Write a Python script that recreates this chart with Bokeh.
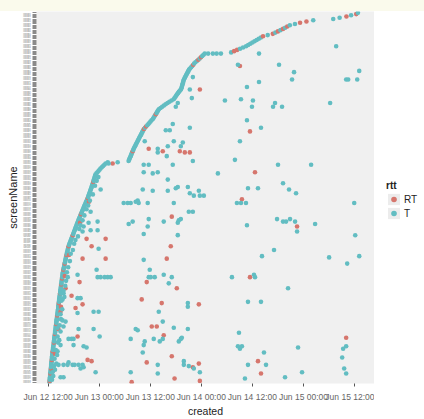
import pandas as pd
from bokeh.embed import file_html
from bokeh.layouts import column, row
from bokeh.models import (ColumnDataSource, DatetimeTickFormatter, Div, FactorRange,
                          FixedTicker, Legend, LegendItem, Range1d)
from bokeh.plotting import figure
from bokeh.resources import INLINE

# ---------------- data ----------------
# y categories: one level per user (ordered by first tweet, bottom = first)
screen_names = [f"user{i:03d}" for i in range(1, 301)]

# hour (since Jun 12 00:00) of the first tweet of each user, level 1..300
first_hour = [
    12.30, 12.33, 12.36, 12.39, 12.42, 12.45, 12.48, 12.50, 12.53, 12.56,
    12.59, 12.62, 12.65, 12.68, 12.71, 12.74, 12.77, 12.80, 12.83, 12.86,
    12.89, 12.92, 12.95, 12.98, 13.01, 13.05, 13.09, 13.13, 13.17, 13.21,
    13.25, 13.29, 13.33, 13.36, 13.40, 13.43, 13.47, 13.50, 13.54, 13.58,
    13.61, 13.65, 13.69, 13.72, 13.76, 13.79, 13.83, 13.87, 13.90, 13.94,
    13.97, 14.01, 14.05, 14.08, 14.12, 14.16, 14.20, 14.24, 14.28, 14.32,
    14.35, 14.38, 14.40, 14.44, 14.48, 14.52, 14.56, 14.60, 14.63, 14.67,
    14.71, 14.75, 14.79, 14.83, 14.87, 14.90, 14.94, 14.98, 15.02, 15.06,
    15.10, 15.14, 15.18, 15.22, 15.26, 15.30, 15.34, 15.38, 15.40, 15.46,
    15.52, 15.58, 15.64, 15.70, 15.76, 15.82, 15.88, 15.94, 16.00, 16.06,
    16.12, 16.18, 16.25, 16.31, 16.38, 16.44, 16.51, 16.58, 16.66, 16.73,
    16.80, 16.90, 17.01, 17.12, 17.23, 17.34, 17.45, 17.56, 17.67, 17.78,
    17.89, 18.00, 18.11, 18.22, 18.33, 18.44, 18.55, 18.66, 18.77, 18.88,
    19.00, 19.10, 19.22, 19.34, 19.46, 19.58, 19.70, 19.82, 19.94, 20.06,
    20.18, 20.30, 20.42, 20.54, 20.67, 20.80, 20.92, 21.05, 21.17, 21.30,
    21.40, 21.50, 21.60, 21.70, 21.80, 21.90, 22.00, 22.10, 22.20, 22.30,
    22.40, 22.49, 22.58, 22.67, 22.76, 22.85, 22.94, 23.02, 23.10, 23.34,
    23.58, 23.82, 24.06, 24.30, 24.60, 24.90, 25.20, 25.50, 26.00, 30.90,
    31.02, 31.14, 31.26, 31.38, 31.50, 31.62, 31.74, 31.86, 31.98, 32.10,
    32.25, 32.40, 32.55, 32.70, 32.85, 33.00, 33.15, 33.30, 33.45, 33.60,
    33.75, 33.90, 34.05, 34.20, 34.35, 34.50, 34.75, 35.00, 35.30, 35.55,
    35.80, 36.05, 36.30, 36.60, 36.78, 36.95, 37.13, 37.30, 37.48, 37.65,
    37.83, 38.00, 38.40, 38.80, 39.20, 39.60, 40.05, 40.50, 41.00, 41.50,
    41.70, 41.90, 42.10, 42.30, 42.50, 42.70, 42.95, 43.20, 43.30, 43.40,
    43.48, 43.56, 43.64, 43.72, 43.80, 43.90, 44.05, 44.20, 44.35, 44.50,
    44.65, 44.80, 44.95, 45.10, 45.35, 45.60, 45.85, 46.10, 46.30, 46.60,
    46.95, 47.30, 47.60, 47.90, 48.20, 48.50, 48.80, 55.00, 55.70, 56.40,
    57.10, 57.80, 58.50, 59.00, 59.50, 60.00, 60.50, 61.00, 61.50, 62.00,
    62.50, 63.60, 64.80, 65.40, 66.00, 66.60, 67.20, 67.70, 68.20, 68.80,
    70.00, 71.20, 72.70, 74.30, 79.00, 80.50, 82.10, 83.20, 84.40, 84.80,
]

# users whose first tweet is a retweet
rt_first_levels = [2, 8, 12, 19, 26, 33, 40, 48, 55, 65, 73, 80, 85, 92, 97, 104,
                   111, 120, 137, 150, 163, 188, 206, 208, 218, 258, 262, 264, 269,
                   270, 281, 283, 285, 287, 289, 292, 293, 297, 299]

# later retweets: (user level, hour)
rt_extra = [
    (238, 47.65), (190, 35.63), (188, 38.93), (188, 42.93), (187, 44.11), (187, 45.29),
    (178, 27.15), (135, 41.05), (117, 21.02), (117, 25.50), (111, 22.20), (111, 40.81),
    (101, 20.08), (101, 25.50), (101, 39.87), (82, 19.37), (82, 35.16), (77, 42.23),
    (77, 16.08), (71, 17.49), (68, 33.98), (65, 38.69), (64, 47.41), (64, 20.08),
    (61, 18.43), (58, 14.90), (46, 36.34), (46, 37.52), (39, 39.16), (38, 18.90),
    (22, 41.05), (19, 21.26), (18, 22.20), (17, 35.16), (13, 46.00), (16, 47.41),
    (1, 31.62), (4, 41.70), (2, 47.65), (127, 70.50), (86, 59.43), (37, 82.04),
    (18, 61.31), (8, 62.02), (257, 57.07), (204, 59.43), (171, 60.61), (149, 57.54),
    (10, 13.10), (24, 13.60), (44, 14.40), (62, 15.00), (87, 15.90), (104, 16.90),
    (130, 19.50), (147, 21.60),
]

# later original tweets: (user level, hour)
t_extra = [
    (267, 49.60), (267, 50.71), (267, 51.60), (267, 52.60), (248, 46.00), (238, 45.29),
    (231, 45.76), (227, 42.46), (224, 41.99), (210, 41.28), (205, 39.64), (205, 40.58),
    (207, 45.29), (196, 41.52), (195, 43.64), (192, 43.17), (192, 40.11), (190, 37.75),
    (187, 37.75), (184, 39.87), (196, 34.69), (180, 46.00), (177, 41.28), (177, 34.45),
    (177, 35.63), (171, 34.45), (170, 36.57), (171, 37.75), (165, 40.11), (158, 41.99),
    (159, 42.46), (159, 44.82), (154, 45.29), (152, 46.23), (152, 47.65), (152, 48.59),
    (156, 36.57), (157, 34.22), (156, 40.11), (156, 47.41), (146, 41.52), (146, 35.39),
    (157, 24.32), (178, 26.20), (179, 28.33), (146, 29.74), (146, 30.68), (146, 31.39),
    (147, 32.57), (148, 33.04), (146, 33.27), (139, 21.97), (132, 20.08), (130, 21.49),
    (131, 23.61), (127, 20.32), (124, 21.97), (123, 20.08), (124, 23.61), (129, 30.92),
    (131, 31.86), (133, 35.63), (127, 35.39), (121, 34.45), (131, 39.16), (132, 42.70),
    (133, 43.17), (130, 42.46), (120, 42.46), (139, 45.05), (139, 46.00), (109, 23.85),
    (100, 34.45), (92, 23.38), (92, 35.87), (86, 16.60), (88, 18.90), (86, 23.61),
    (86, 24.32), (86, 25.27), (86, 25.97), (86, 26.68), (86, 35.63), (86, 36.10),
    (86, 37.04), (88, 39.16), (86, 41.05), (81, 40.34), (73, 14.90), (73, 15.60),
    (69, 18.90), (69, 19.61), (68, 15.37), (65, 44.82), (62, 44.82), (57, 18.90),
    (58, 22.67), (58, 23.85), (58, 37.99), (51, 15.37), (50, 16.08), (50, 38.93),
    (44, 32.57), (43, 33.04), (44, 19.14), (44, 22.67), (45, 14.19), (42, 14.90),
    (46, 15.60), (45, 41.52), (44, 44.82), (38, 24.09), (36, 16.78), (36, 17.49),
    (36, 17.96), (36, 31.39), (36, 36.81), (34, 38.22), (36, 38.93), (34, 42.70),
    (36, 43.17), (37, 43.41), (34, 34.69), (31, 34.45), (30, 20.32), (29, 21.02),
    (31, 17.96), (31, 14.90), (26, 14.19), (25, 34.22), (18, 43.88), (15, 43.88),
    (17, 16.78), (15, 17.73), (15, 37.75), (15, 14.43), (15, 15.60), (15, 16.55),
    (15, 18.20), (15, 19.14), (15, 20.08), (14, 45.05), (12, 46.23), (12, 19.61),
    (13, 20.32), (9, 23.14), (9, 31.39), (8, 37.75), (9, 47.65), (5, 14.90), (5, 15.60),
    (133, 65.79), (131, 67.20), (131, 67.91), (133, 68.85), (131, 70.03), (123, 70.50),
    (129, 74.74), (128, 58.72), (120, 84.17), (108, 65.08), (103, 62.25), (102, 78.03),
    (97, 82.28), (103, 85.11), (86, 55.19), (88, 60.37), (86, 60.61), (77, 68.38),
    (66, 58.96), (66, 62.02), (41, 56.84), (30, 56.60), (28, 57.07), (30, 57.54),
    (28, 81.33), (30, 82.04), (25, 62.72), (29, 70.73), (21, 81.10), (15, 58.96),
    (15, 63.20), (12, 81.57), (9, 71.67), (8, 82.04), (5, 67.67), (4, 58.25),
    (273, 79.69), (267, 61.55), (258, 56.60), (258, 66.26), (252, 69.79), (246, 69.32),
    (253, 85.11), (246, 82.04), (246, 82.52), (246, 84.64), (244, 61.55), (240, 58.72),
    (229, 53.54), (230, 57.31), (229, 60.13), (224, 59.90), (227, 65.32), (224, 64.85),
    (224, 66.97), (227, 78.27), (213, 58.72), (207, 62.02), (196, 57.07), (181, 55.89),
    (177, 66.02), (177, 73.80), (170, 51.89), (158, 58.96), (158, 61.31), (162, 67.20),
    (157, 68.61), (154, 70.26), (146, 56.36), (146, 57.31), (146, 58.49), (146, 83.93),
    (3, 12.90), (6, 13.20), (9, 13.00), (11, 13.60), (14, 13.40), (16, 13.90),
    (20, 13.50), (23, 14.10), (27, 13.80), (33, 14.30), (35, 14.60), (38, 14.20),
    (47, 14.70), (52, 15.00), (56, 14.90), (60, 15.30), (67, 15.10), (70, 15.80),
    (75, 15.60), (79, 16.00), (83, 16.20), (90, 16.40), (94, 16.70), (99, 17.10),
    (105, 17.30), (108, 17.80), (113, 18.10), (116, 18.40), (119, 19.00), (125, 19.30),
    (128, 19.60), (136, 20.50), (141, 21.00), (144, 21.40), (148, 21.80), (153, 22.50),
    (160, 23.00), (164, 23.40), (167, 23.80),
]

rtt_labels = ["RT", "T"]
rtt_colors = ["#D6766D", "#62BDC2"]

x_tick_hours = [12, 24, 36, 48, 60, 72, 84]
x_tick_labels = ["Jun 12 12:00", "Jun 13 00:00", "Jun 13 12:00", "Jun 14 00:00",
                 "Jun 14 12:00", "Jun 15 00:00", "Jun 15 12:00"]
x_limit_hours = [9.25, 88.7]

# ---------------- build ----------------
base = pd.Timestamp("2014-06-12 00:00")


def ms(h):
    return (base + pd.to_timedelta(h, unit="h")).value / 1e6


xs, ys, cols = [], [], []
for lvl, h in enumerate(first_hour, start=1):
    xs.append(ms(h))
    ys.append(screen_names[lvl - 1])
    cols.append(rtt_colors[0] if lvl in rt_first_levels else rtt_colors[1])
for lvl, h in rt_extra:
    xs.append(ms(h)); ys.append(screen_names[lvl - 1]); cols.append(rtt_colors[0])
for lvl, h in t_extra:
    xs.append(ms(h)); ys.append(screen_names[lvl - 1]); cols.append(rtt_colors[1])

src = ColumnDataSource(dict(x=xs, y=ys, c=cols))

FONT = "Liberation Sans"

p = figure(width=374, height=408, x_axis_type="datetime",
           x_range=Range1d(ms(x_limit_hours[0]), ms(x_limit_hours[1])),
           y_range=FactorRange(factors=screen_names, range_padding=0.6,
                               range_padding_units="absolute"),
           output_backend="svg", toolbar_location=None,
           min_border_left=36, min_border_right=0, min_border_top=0,
           min_border_bottom=30)
p.background_fill_color = "#F0F0F0"
p.border_fill_color = "white"
p.outline_line_color = None
p.xgrid.visible = False
p.ygrid.visible = False

p.scatter("x", "y", source=src, size=4.6, fill_color="c", line_color=None)

# x axis
xa = p.xaxis[0]
xa.ticker = FixedTicker(ticks=[ms(h) for h in x_tick_hours])
fmt = "%b %d %H:%M"
xa.formatter = DatetimeTickFormatter(milliseconds=fmt, seconds=fmt, minsec=fmt, minutes=fmt,
                                     hourmin=fmt, hours=fmt, days=fmt, months=fmt, years=fmt)
xa.axis_line_color = None
xa.major_tick_out = 3
xa.major_tick_in = 0
xa.major_tick_line_color = "#555555"
xa.minor_tick_line_color = None
xa.major_label_text_font = FONT
xa.major_label_text_font_size = "8.5px"
xa.major_label_text_color = "#666666"
xa.major_label_standoff = 5
xa.axis_label = "created"
xa.axis_label_text_font = FONT
xa.axis_label_text_font_size = "10.5px"
xa.axis_label_text_font_style = "normal"
xa.axis_label_text_color = "#222222"
xa.axis_label_standoff = 0

# y axis
ya = p.yaxis[0]
ya.axis_line_color = None
ya.major_tick_out = 4
ya.major_tick_in = 0
ya.major_tick_line_color = "#8A8A8A"
ya.major_label_text_font = FONT
ya.major_label_text_font_size = "2px"
ya.major_label_text_color = "#777777"
ya.major_label_standoff = 2
ya.axis_label = "screenName"
ya.axis_label_text_font = FONT
ya.axis_label_text_font_size = "11px"
ya.axis_label_text_font_style = "normal"
ya.axis_label_text_color = "#222222"
ya.axis_label_standoff = 1

# legend panel (separate narrow figure to the right of the plot);
# its proxy glyphs sit outside the visible 0..1 ranges
lg = figure(width=50, height=408, x_range=Range1d(0, 1), y_range=Range1d(0, 1),
            output_backend="svg", toolbar_location=None, min_border=0)
lg.axis.visible = False
lg.grid.visible = False
lg.outline_line_color = None
lg.background_fill_color = "white"
lg.border_fill_color = "white"
proxy_q = ColumnDataSource(dict(l=[10], r=[11], t=[11], b=[10]))
proxy_s = ColumnDataSource(dict(x=[10], y=[10]))
key_bg = lg.quad(left="l", right="r", top="t", bottom="b", source=proxy_q,
                 fill_color="#ECECEC", line_color=None)
rt_r = lg.scatter("x", "y", source=proxy_s, size=5, fill_color=rtt_colors[0], line_color=None)
t_r = lg.scatter("x", "y", source=proxy_s, size=5, fill_color=rtt_colors[1], line_color=None)
legend = Legend(items=[LegendItem(label=rtt_labels[0], renderers=[key_bg, rt_r]),
                       LegendItem(label=rtt_labels[1], renderers=[key_bg, t_r])],
                title="rtt", location=(12, 163), margin=0, padding=0,
                glyph_width=15, glyph_height=14, spacing=0, label_standoff=3,
                label_width=10, label_height=14, title_standoff=1,
                border_line_color=None, background_fill_alpha=0)
legend.title_text_font = FONT
legend.title_text_font_size = "10px"
legend.title_text_font_style = "bold"
legend.title_text_color = "#222222"
legend.label_text_font = FONT
legend.label_text_font_size = "10px"
legend.label_text_color = "#222222"
lg.add_layout(legend)

band = Div(text="", width=424, height=11, margin=(0, 0, 0, 0),
           styles={"background-color": "#FAFAEC"})

layout = column(band, row(p, lg, spacing=0), spacing=0)
open("out.html", "w").write(file_html(layout, INLINE))
